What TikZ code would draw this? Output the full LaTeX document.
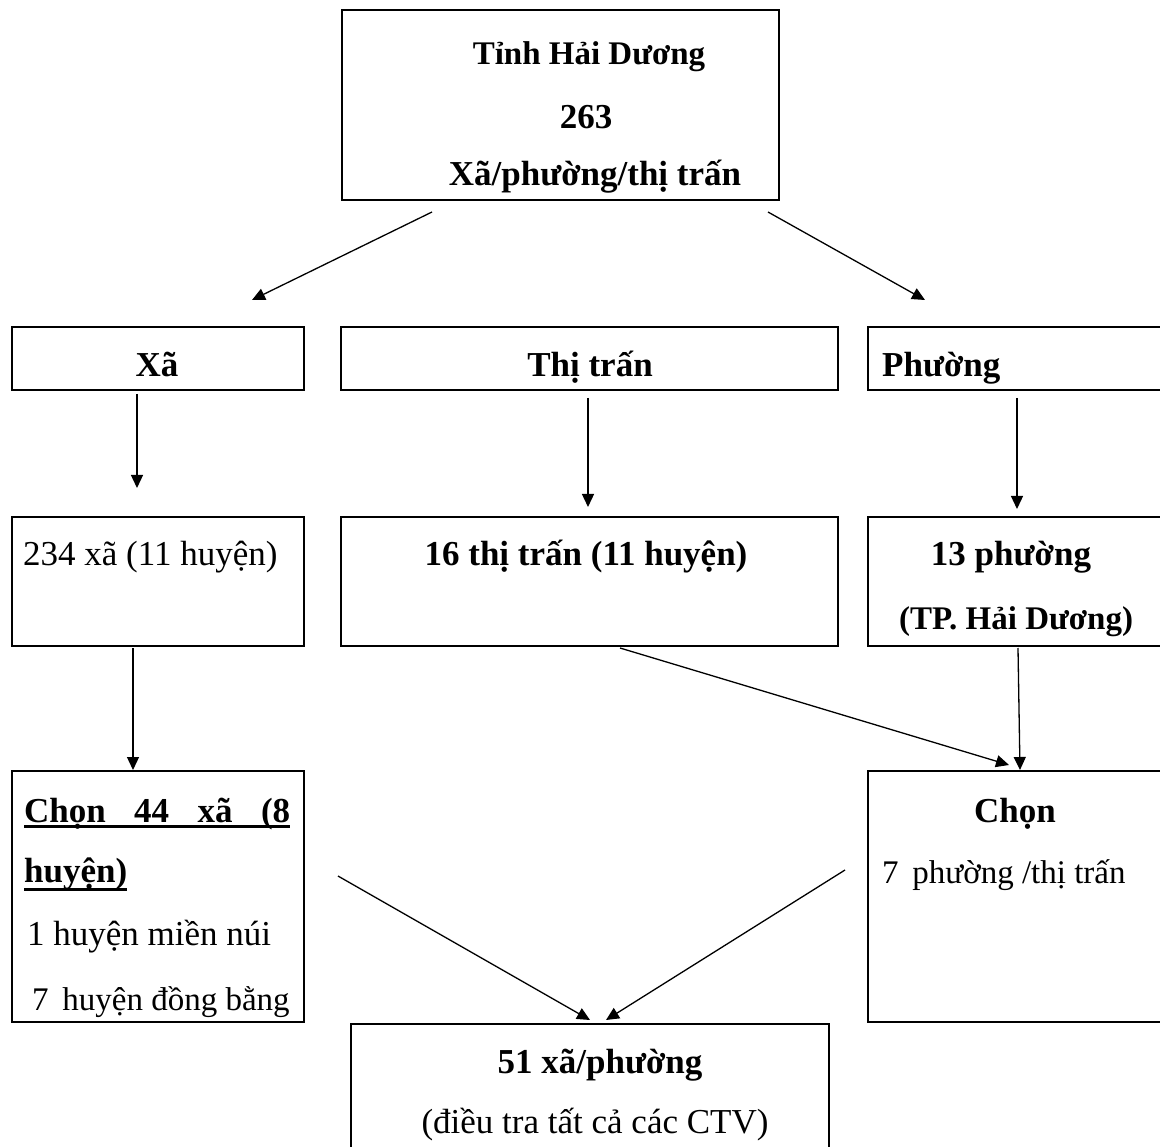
\documentclass[tikz,border=0pt]{standalone}
\usepackage{fontspec}
\setmainfont{Liberation Serif}
\usetikzlibrary{arrows.meta}

\newcommand{\ulbar}[3]{\setbox0\hbox{#3}\rlap{\rule[-#1]{\wd0}{#2}}\box0}

\begin{document}
\begin{tikzpicture}[x=1pt,y=-1pt,>={Triangle[length=13pt,width=12pt]},
    boxnode/.style={draw,line width=1.8pt,anchor=north west,inner sep=0pt},
    txt/.style={font=\fontsize{35}{42}\selectfont,inner sep=0pt,anchor=base},
    stxt/.style={txt,font=\fontsize{33}{40}\selectfont},
    btxt/.style={txt,font=\fontsize{35}{42}\selectfont\bfseries},
    sbtxt/.style={txt,font=\fontsize{33}{40}\selectfont\bfseries},
    arr/.style={->,line width=1.3pt}]
    \useasboundingbox (0,0) rectangle (1160,1147);

    % boxes
    \node (Tinh) [boxnode,minimum width=437pt,minimum height=190pt] at (341,9) {};

    \node (Xa) [boxnode,minimum width=292pt,minimum height=63pt] at (11,326) {};
    \node (ThiTran) [boxnode,minimum width=497pt,minimum height=63pt] at (340,326) {};
    \node (Phuong) [boxnode,minimum width=310pt,minimum height=63pt] at (867,326) {};

    \node (Xa234) [boxnode,minimum width=292pt,minimum height=129pt] at (11,516) {};
    \node (TT16) [boxnode,minimum width=497pt,minimum height=129pt] at (340,516) {};
    \node (P13) [boxnode,minimum width=310pt,minimum height=129pt] at (867,516) {};

    \node (ChonXa) [boxnode,minimum width=292pt,minimum height=251pt] at (11,770) {};
    \node (ChonP) [boxnode,minimum width=310pt,minimum height=251pt] at (867,770) {};

    \node (Tong51) [boxnode,minimum width=478pt,minimum height=150pt] at (350,1023) {};

    % texts
    \node (tinh1) [sbtxt] at (589,65) {Tỉnh Hải Dương};
    \node (tinh2) [btxt] at (586,129) {263};
    \node (tinh3) [btxt] at (595,186) {Xã/phường/thị trấn};

    \node (xa1) [btxt] at (157,377) {Xã};
    \node (tt1) [btxt] at (590,377) {Thị trấn};
    \node (ph1) [btxt,anchor=base west] at (882,377) {Phường};

    \node (xa2) [txt,anchor=base west] at (23,565) {234 xã (11 huyện)};
    \node (tt2) [btxt] at (586,565) {16 thị trấn (11 huyện)};
    \node (ph2) [btxt] at (1011,565) {13 phường};
    \node (ph3) [sbtxt] at (1016,629) {(TP. Hải Dương)};

    \node (cx1) [btxt,anchor=base west] at (24,822) {\ulbar{6pt}{3pt}{\makebox[266pt]{Chọn\hfill 44\hfill xã\hfill (8}}};
    \node (cx2) [btxt,anchor=base west] at (24,882) {\ulbar{9pt}{3.5pt}{huyện)}};
    \node (cx3) [txt,anchor=base west] at (27,945) {1 huyện miền núi};
    \node (cx4) [stxt,anchor=base west] at (32,1010) {7\ \,huyện đồng bằng};

    \node (cp1) [btxt] at (1015,822) {Chọn};
    \node (cp2) [stxt,anchor=base west] at (882,883) {7\ \,phường /thị trấn};

    \node (tg1) [btxt] at (600,1073) {51 xã/phường};
    \node (tg2) [txt] at (595,1133) {(điều tra tất cả các CTV)};

    % arrow ends
    \coordinate (a1s) at (432,212);
    \coordinate (a1e) at (252,300);
    \coordinate (a2s) at (768,212);
    \coordinate (a2e) at (925,300);
    \coordinate (a3s) at (137,394);
    \coordinate (a3e) at (137,488);
    \coordinate (a4s) at (588,398);
    \coordinate (a4e) at (588,507);
    \coordinate (a5s) at (1017,398);
    \coordinate (a5e) at (1017,509);
    \coordinate (a6s) at (133,648);
    \coordinate (a6e) at (133,770);
    \coordinate (a7s) at (620,648);
    \coordinate (a7e) at (1009,765);
    \coordinate (a8s) at (1018,648);
    \coordinate (a8e) at (1020,770);
    \coordinate (a9s) at (338,876);
    \coordinate (a9e) at (590,1020);
    \coordinate (a10s) at (845,870);
    \coordinate (a10e) at (606,1020);

    \draw[arr] (a1s) -- (a1e);
    \draw[arr] (a2s) -- (a2e);
    \draw[arr] (a3s) -- (a3e);
    \draw[arr] (a4s) -- (a4e);
    \draw[arr] (a5s) -- (a5e);
    \draw[arr] (a6s) -- (a6e);
    \draw[arr] (a7s) -- (a7e);
    \draw[arr] (a8s) -- (a8e);
    \draw[arr] (a9s) -- (a9e);
    \draw[arr] (a10s) -- (a10e);
\end{tikzpicture}
\end{document}
